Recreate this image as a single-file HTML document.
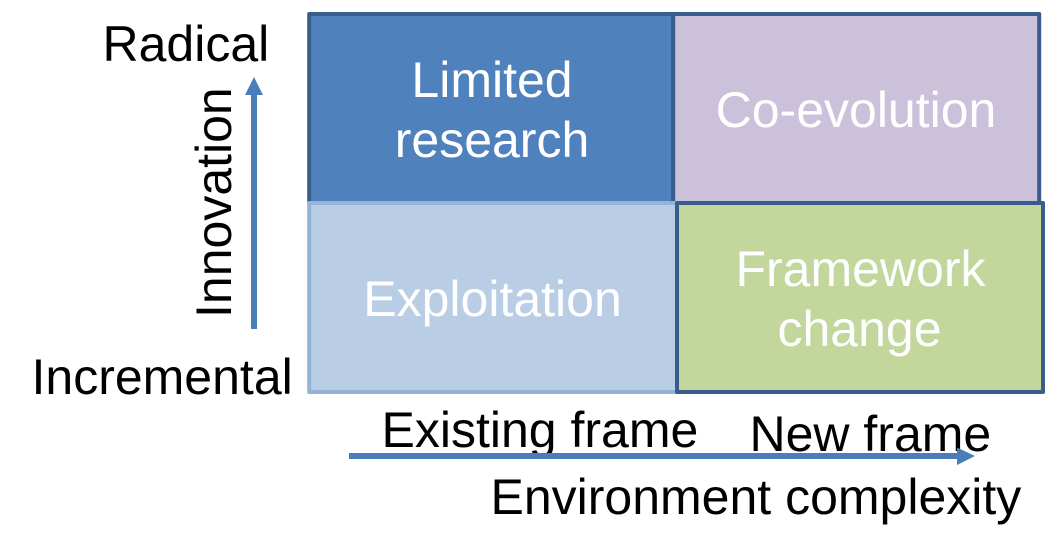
<!DOCTYPE html>
<html>
<head>
<meta charset="utf-8">
<style>
html,body{margin:0;padding:0;background:#fff;width:1052px;height:558px;overflow:hidden}
svg{display:block}
text{font-family:"Liberation Sans",Arial,sans-serif;font-size:50px}
.w{fill:#fff;text-anchor:middle}
.b{fill:#000}
</style>
</head>
<body>
<svg width="1052" height="558" viewBox="0 0 1052 558" xmlns="http://www.w3.org/2000/svg">
<rect x="309.2" y="14" width="364" height="189" fill="#4f81bd" stroke="#385d8a" stroke-width="4" stroke-linejoin="round"/>
<rect x="673.2" y="14" width="366" height="189" fill="#ccc1da" stroke="#385d8a" stroke-width="4" stroke-linejoin="round"/>
<rect x="309.2" y="203" width="368" height="189" fill="#b9cde5" stroke="#95b3d7" stroke-width="4" stroke-linejoin="round"/>
<rect x="677" y="203" width="366" height="189" fill="#c3d69b" stroke="#385d8a" stroke-width="4" stroke-linejoin="round"/>
<text class="w" x="492" y="97">Limited</text>
<text class="w" x="492" y="157">research</text>
<text class="w" x="856" y="127">Co-evolution</text>
<text class="w" x="492.5" y="316">Exploitation</text>
<text class="w" x="860.5" y="286">Framework</text>
<text class="w" x="859.5" y="346">change</text>
<text class="b" x="102.5" y="61">Radical</text>
<text class="b" x="31.5" y="394">Incremental</text>
<text class="b" x="381.5" y="447">Existing frame</text>
<text class="b" x="749.5" y="451">New frame</text>
<text class="b" x="490.5" y="514">Environment complexity</text>
<text class="b" transform="translate(231 318) rotate(-90)">Innovation</text>
<path d="M251 329V95H245L254 77L263 95H257V329Z" fill="#4a7ebb"/>
<path d="M349 453H957V447.5L975 456L957 465V459H349Z" fill="#4a7ebb"/>
</svg>
</body>
</html>
